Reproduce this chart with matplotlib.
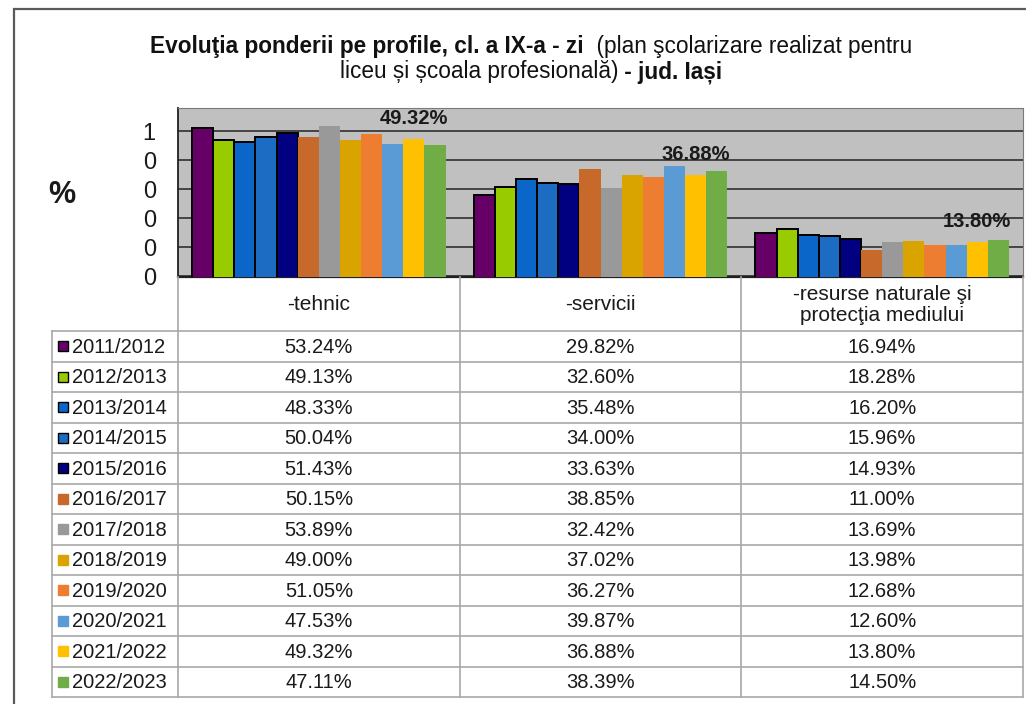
import numpy as np
import matplotlib
matplotlib.use("Agg")
import matplotlib.pyplot as plt
from matplotlib.patches import Rectangle

years = ['2011/2012', '2012/2013', '2013/2014', '2014/2015', '2015/2016', '2016/2017',
         '2017/2018', '2018/2019', '2019/2020', '2020/2021', '2021/2022', '2022/2023']
categories = ['-tehnic', '-servicii', '-resurse naturale şi\nprotecţia mediului']
tehnic = [53.24, 49.13, 48.33, 50.04, 51.43, 50.15, 53.89, 49.00, 51.05, 47.53, 49.32, 47.11]
servicii = [29.82, 32.60, 35.48, 34.00, 33.63, 38.85, 32.42, 37.02, 36.27, 39.87, 36.88, 38.39]
resurse = [16.94, 18.28, 16.20, 15.96, 14.93, 11.00, 13.69, 13.98, 12.68, 12.60, 13.80, 14.50]
colors = ['#660066', '#99cc00', '#0a66c8', '#1c6cc4', '#000080', '#c8692c',
          '#999999', '#d9a300', '#ed7d31', '#5b9bd5', '#ffc000', '#70ad47']
outlined = [True, True, True, True, True, False, False, False, False, False, False, False]
ytick_labels = ['0', '0', '0', '0', '0', '1']
labelled_year = '2021/2022'

plain = ['Liberation Sans', 'DejaVu Sans']

W, H = 1026, 704
fig = plt.figure(figsize=(W / 100, H / 100), dpi=100)
fig.patch.set_facecolor('white')


def fx(px):
    return px / W


def fy(py):
    return 1 - py / H


# outer frame of the chart object
fig.patches.append(Rectangle((fx(14), -0.05), 1.2, fy(9) + 0.05, transform=fig.transFigure,
                             fill=False, edgecolor='#5a5a5a', lw=1.6))

# plot area
ax_left, ax_right, ax_top, ax_bottom = 178, 1023, 108, 277
ax = fig.add_axes([fx(ax_left), fy(ax_bottom), fx(ax_right - ax_left), (ax_bottom - ax_top) / H])
ax.set_facecolor('#c0c0c0')

n = len(years)
x = np.arange(len(categories))
group = 0.9
bw = group / n
for i, yr in enumerate(years):
    vals = [tehnic[i], servicii[i], resurse[i]]
    pos = x - group / 2 + bw * (i + 0.5)
    ax.bar(pos, vals, bw, color=colors[i],
           edgecolor='black' if outlined[i] else colors[i],
           linewidth=1.4 if outlined[i] else 0, zorder=3)
    if yr == labelled_year:
        for p, v in zip(pos, vals):
            ax.annotate(f'{v:.2f}%', (p, v), xytext=(0, 8), textcoords='offset points',
                        ha='center', va='bottom', fontsize=14.5, fontweight='bold',
                        family=plain, color='#1a1a1a', zorder=5)

ax.set_xlim(-0.5, len(categories) - 0.5)
ax.set_ylim(1.7, 60)
yt = np.arange(2, 53, 10)
ax.set_yticks(yt)
ax.set_yticklabels(ytick_labels, fontsize=17, family=plain, color='#1a1a1a')
ax.tick_params(axis='y', length=0, pad=16)
ax.set_xticks([])
ax.grid(axis='y', color='#3a3a3a', lw=1.3, zorder=1)
ax.set_axisbelow(True)
for s in ['top', 'right']:
    ax.spines[s].set_color('#7a7a7a')
ax.spines['left'].set_color('#202020')
ax.spines['left'].set_linewidth(1.3)
ax.spines['bottom'].set_color('#202020')
ax.spines['bottom'].set_linewidth(1.6)

fig.text(fx(62), fy(195), '%', fontsize=22, fontweight='bold', family=plain,
         ha='center', va='center', color='#1a1a1a')

# data table under the plot
tab = fig.add_axes([0, 0, 1, 1], facecolor='none')
tab.set_xlim(0, W)
tab.set_ylim(H, 0)
tab.axis('off')
lc = '#a8a8a8'
col_w = (ax_right - ax_left) / len(categories)
col_edges = [ax_left + col_w * k for k in range(len(categories) + 1)]
head_bot = 331
row_h = 30.5
tab_left = 52
tab_bot = head_bot + row_h * n

for k, cat in enumerate(categories):
    tab.text((col_edges[k] + col_edges[k + 1]) / 2, (ax_bottom + head_bot) / 2 + 1, cat,
             ha='center', va='center', fontsize=15, family=plain, linespacing=1.1,
             color='#1a1a1a')
for ce in col_edges:
    tab.plot([ce, ce], [ax_bottom, tab_bot], color=lc, lw=1.2)
tab.plot([tab_left, tab_left], [head_bot, tab_bot], color=lc, lw=1.2)
for r in range(n + 1):
    yy = head_bot + r * row_h
    tab.plot([tab_left, ax_right], [yy, yy], color=lc, lw=1.2)

for i, yr in enumerate(years):
    yc = head_bot + row_h * (i + 0.5)
    tab.add_patch(Rectangle((58, yc - 5), 10, 10, facecolor=colors[i],
                            edgecolor='black' if outlined[i] else colors[i], lw=1.0))
    tab.text(72, yc + 1, yr, ha='left', va='center', fontsize=14.5, family=plain,
             color='#1a1a1a')
    for k, vals in enumerate([tehnic, servicii, resurse]):
        tab.text((col_edges[k] + col_edges[k + 1]) / 2, yc + 1, f'{vals[i]:.2f}%',
                 ha='center', va='center', fontsize=14.5, family=plain, color='#1a1a1a')


# title with mixed bold / regular pieces
def title_line(y, parts, size=16.3):
    rend = fig.canvas.get_renderer()
    objs = []
    for txt, w in parts:
        objs.append(fig.text(0, fy(y), txt, fontsize=size, fontweight=w, family=plain,
                             va='baseline', ha='left', color='#111111'))
    widths = [o.get_window_extent(rend).width for o in objs]
    start = 531 - sum(widths) / 2
    for o, wd in zip(objs, widths):
        o.set_x(fx(start))
        start += wd


title_line(53, [('Evoluţia ponderii pe profile, cl. a IX-a - zi', 'bold'),
                ('  (plan şcolarizare realizat pentru', 'normal')])
title_line(78, [('liceu și școala profesională)', 'normal'), (' - jud. Iași', 'bold')])

fig.savefig('out.png', dpi=100)
